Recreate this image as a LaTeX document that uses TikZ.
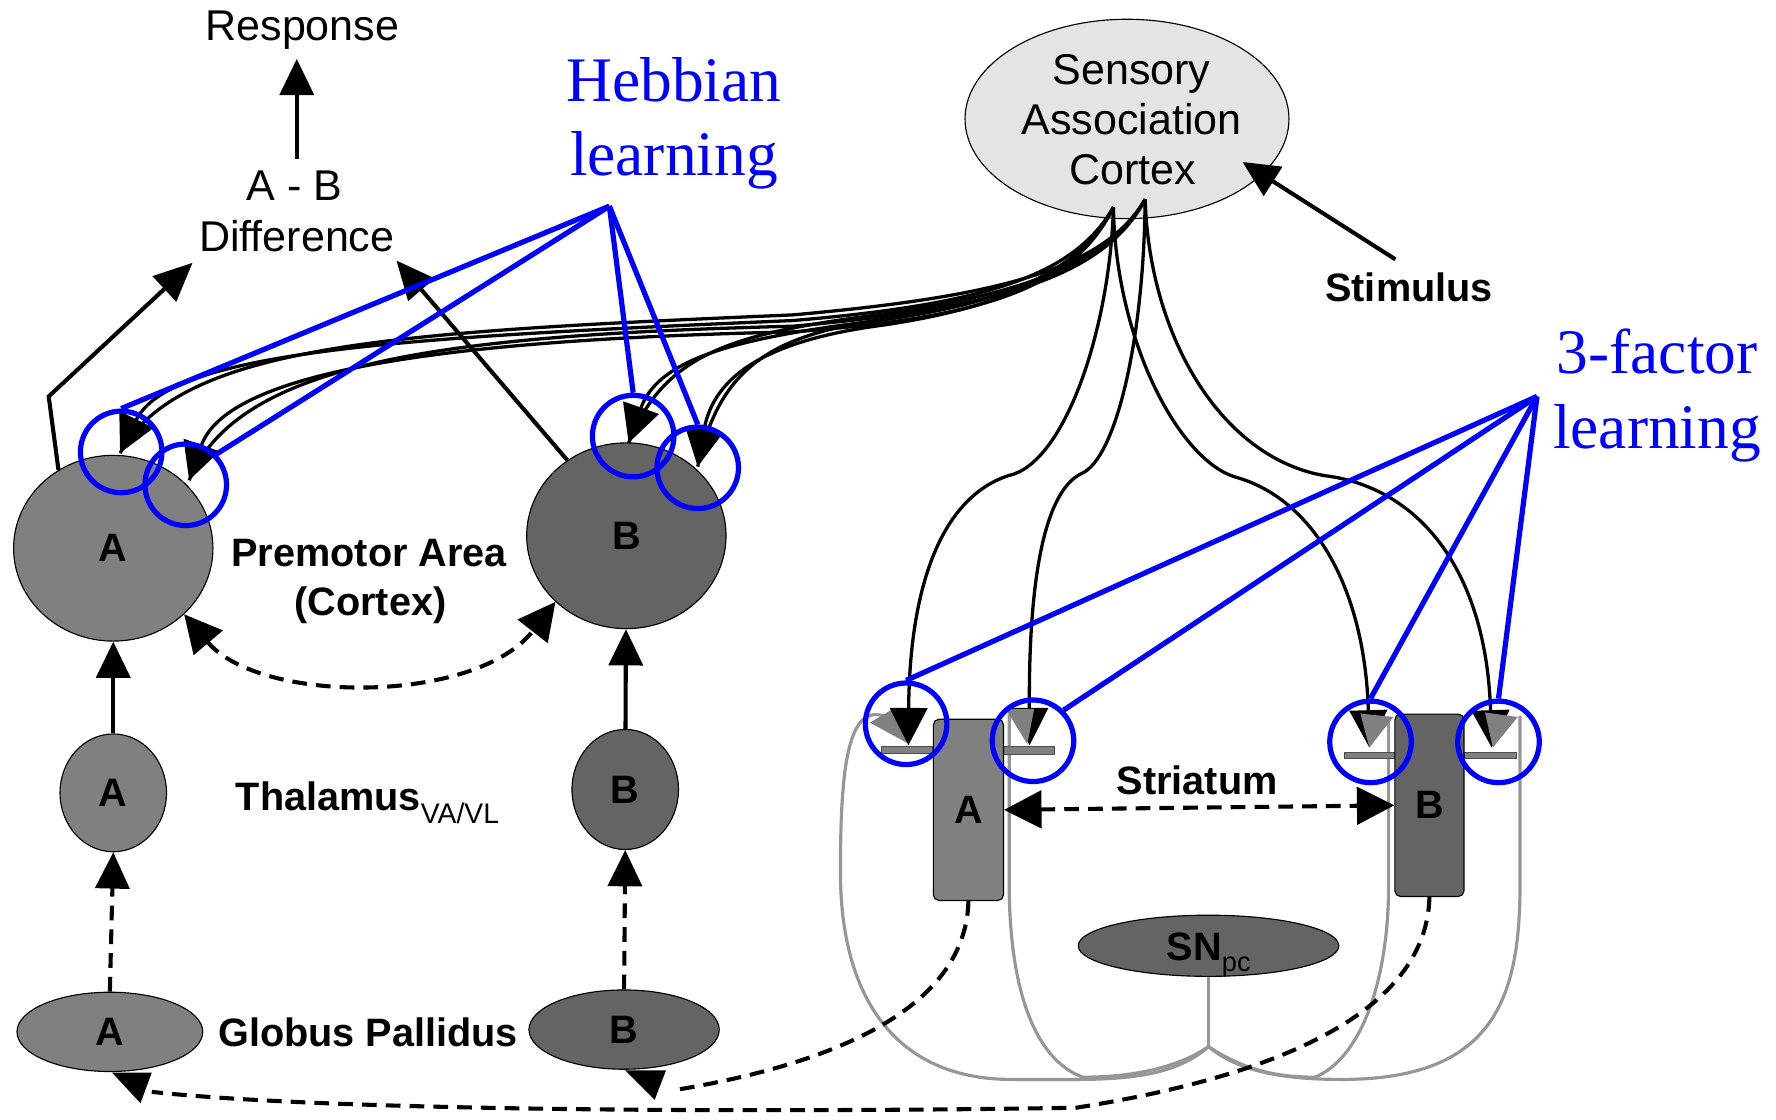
\documentclass[tikz,border=0pt]{standalone}
\usepackage{fontspec}
\setmainfont{Liberation Sans}
\newfontfamily\timesfam{Liberation Serif}
\usetikzlibrary{arrows.meta,shapes.geometric}
\definecolor{areaA}{RGB}{128,128,128}
\definecolor{areaB}{RGB}{100,100,100}
\definecolor{sensfill}{RGB}{228,228,228}
\definecolor{dopa}{RGB}{150,150,150}
\definecolor{hebblue}{RGB}{0,0,255}
\tikzset{
  brainarea/.style={ellipse, draw, line width=1pt, inner sep=0pt,
    font=\fontsize{35}{40}\selectfont\bfseries},
  striat/.style={rectangle, rounded corners=5pt, draw, line width=1pt, inner sep=0pt,
    minimum width=62pt, minimum height=160pt, font=\fontsize{35}{40}\selectfont\bfseries},
  txt/.style={inner sep=0pt, anchor=base, font=\fontsize{38}{44}\selectfont},
  boldlbl/.style={inner sep=0pt, anchor=base, font=\fontsize{35}{40}\selectfont\bfseries},
  bluelbl/.style={inner sep=0pt, anchor=base, text=hebblue, font=\fontsize{56}{60}\selectfont\timesfam},
  solidarrow/.style={line width=3.6pt, -{Triangle[width=30pt,length=32pt]}},
  dashline/.style={line width=3.6pt, dash pattern=on 13pt off 8pt},
  dasharrow/.style={dashline, -{Triangle[width=30pt,length=32pt]}},
  dashboth/.style={dashline, {Triangle[width=33pt,length=33pt]}-{Triangle[width=33pt,length=33pt]}},
  fiber/.style={line width=2.9pt},
  fiberarrow/.style={line width=2.9pt, -{Triangle[width=33pt,length=33pt]}},
  dopamine/.style={draw=dopa, line width=2.8pt},
  ring/.style={circle, draw=hebblue, line width=4.6pt, minimum size=72pt, inner sep=0pt},
  pointer/.style={draw=hebblue, line width=4.6pt},
  synbar/.style={fill=areaA, draw=black!70, line width=0.8pt},
  graytip/.style={fill=areaA},
}
\begin{document}
\begin{tikzpicture}[x=1pt,y=-1pt]
\useasboundingbox (0,0) rectangle (1568,988);

% ---------- named points ----------
\coordinate (srcL) at (983,183);
\coordinate (srcR) at (1011,176);
\coordinate (junc) at (1067,924);
\coordinate (cAl) at (106,400);
\coordinate (cAr) at (167,424);
\coordinate (cBl) at (555,391);
\coordinate (cBr) at (616,412);
\coordinate (sAl) at (802,658);
\coordinate (sAr) at (909,658);
\coordinate (sBl) at (1209,660);
\coordinate (sBr) at (1317,660);
\coordinate (hebpt) at (538,182);
\coordinate (facpt) at (1357,350);
\coordinate (abtop) at (262,140);
\coordinate (resptip) at (262,52);
\coordinate (corner) at (43,350);
\coordinate (difftipA) at (170,232);
\coordinate (difftipB) at (350,230);
\coordinate (stimtail) at (1232,229);
\coordinate (stimtip) at (1097,143);
\coordinate (gpAend) at (134,964);
\coordinate (gpBend) at (598,962);

% ---------- dopamine projections from SNpc ----------
\draw[dopamine] (junc) .. controls (1040,948) and (1000,953) .. (950,953) -- (893,953)
  .. controls (790,953) and (742,880) .. (742,770)
  .. controls (742,680) and (748,622) .. (780,632);
\draw[dopamine] (junc) .. controls (1035,946) and (990,951) .. (956,951)
  .. controls (912,935) and (891,870) .. (891,780) -- (891,630);
\draw[dopamine] (junc) .. controls (1100,946) and (1130,951) .. (1161,951)
  .. controls (1200,935) and (1226,870) .. (1226,780) -- (1226,634);
\draw[dopamine] (junc) .. controls (1095,948) and (1140,953) .. (1185,953)
  .. controls (1320,953) and (1342,880) .. (1342,780) -- (1342,632);

% ---------- synapse bars ----------
\draw[synbar] (778,659) rectangle (823,665);
\draw[synbar] (885,659) rectangle (931,666);
\draw[synbar] (1187,664) rectangle (1233,670);
\draw[synbar] (1293,664) rectangle (1339,670);

% ---------- brain areas ----------
\node[brainarea, fill=sensfill, minimum width=286pt, minimum height=176pt] (sac) at (995,105) {};
\node[brainarea, fill=areaA, minimum width=176pt, minimum height=164pt] (pmA) at (100,484) {A};
\node[brainarea, fill=areaB, minimum width=176pt, minimum height=164pt] (pmB) at (553,473) {B};
\node[brainarea, fill=areaA, minimum width=94pt, minimum height=104pt] (thA) at (100,700) {A};
\node[brainarea, fill=areaB, minimum width=94pt, minimum height=106pt] (thB) at (552,697) {B};
\node[brainarea, fill=areaA, minimum width=164pt, minimum height=70pt] (gpA) at (97,911) {A};
\node[brainarea, fill=areaB, minimum width=168pt, minimum height=70pt] (gpB) at (551,909) {B};
\node[striat, fill=areaA] (stA) at (855,715) {A};
\node[striat, fill=areaB, minimum width=61pt, minimum height=161pt] (stB) at (1262,711) {B};
\node[brainarea, fill=areaB, minimum width=230pt, minimum height=54pt] (snpc) at (1067,835) {};
\draw[dopamine] (snpc.south) -- (junc);

% ---------- labels ----------
\node[txt] (resp) at (267,36) {Response};
\node[txt] (abl) at (260,177) {A - B};
\node[txt] (diffl) at (262,222) {Difference};
\node[txt] (sac1) at (999,75) {Sensory};
\node[txt] (sac2) at (999,119) {Association};
\node[txt] (sac3) at (1000,163) {Cortex};
\node[boldlbl] (stim) at (1244,266) {Stimulus};
\node[boldlbl] (pml1) at (326,500) {Premotor Area};
\node[boldlbl] (pml2) at (327,543) {(Cortex)};
\node[boldlbl, anchor=base west] (thl) at (208,716) {Thalamus\raisebox{-11pt}{\fontsize{25}{25}\selectfont\mdseries VA/VL}};
\node[boldlbl] (gpl) at (325,924) {Globus Pallidus};
\node[boldlbl] (stl) at (1057,701) {Striatum};
\node[boldlbl, anchor=base west] (snl) at (1030,848) {SN\raisebox{-10pt}{\fontsize{24}{24}\selectfont\mdseries pc}};
\node[bluelbl] (heb1) at (595,90) {Hebbian};
\node[bluelbl] (heb2) at (595,155) {learning};
\node[bluelbl] (fac1) at (1463,330) {3-factor};
\node[bluelbl] (fac2) at (1463,396) {learning};

% ---------- output side ----------
\draw[solidarrow] (abtop) -- (resptip);
\draw[solidarrow, -{Triangle[width=30pt,length=34pt]}] (pmA.125) -- (corner) -- (difftipA);
\draw[solidarrow, -{Triangle[width=30pt,length=34pt]}] (pmB.128) -- (difftipB);
\draw[solidarrow] (stimtail) -- (stimtip);

% ---------- loop through thalamus and pallidum ----------
\draw[solidarrow] (thA) -- (pmA);
\draw[solidarrow] (thB) -- (pmB);
\draw[dasharrow] (gpA.north) -- (thA.south);
\draw[dasharrow] (gpB.north) -- (thB.south);
\draw[dashboth] (pmA.-43) .. controls (230,622) and (420,622) .. (pmB.223);
\draw[dashboth] (stA.east) -- (stB.west);
\draw[dashline] (stA.south) .. controls (853,880) and (760,935) .. (gpBend);
\fill (552,945) -- (588,945) -- (578,971) -- cycle;
\draw[dashline] (stB.south) .. controls (1260,880) and (1160,945) .. (950,978)
  .. controls (700,982) and (300,982) .. (gpAend);
\fill (99,947) -- (134,947) -- (124,974) -- cycle;

% ---------- sensory fibres to premotor cortex ----------
\draw[fiberarrow] (srcL) .. controls (950,240) and (880,268) .. (700,283)
  .. controls (350,298) and (150,310) .. (cAl);
\draw[fiber] (srcR) .. controls (975,238) and (880,262) .. (700,278)
  .. controls (350,293) and (160,303) .. (cAl);
\draw[fiberarrow] (srcL) .. controls (950,250) and (880,280) .. (700,293)
  .. controls (380,300) and (200,330) .. (cAr);
\draw[fiber] (srcR) .. controls (975,245) and (880,272) .. (700,288)
  .. controls (380,296) and (210,322) .. (cAr);
\draw[fiberarrow] (srcL) .. controls (950,245) and (880,270) .. (760,285)
  .. controls (640,300) and (580,320) .. (cBl);
\draw[fiber] (srcR) .. controls (975,240) and (880,264) .. (760,280)
  .. controls (640,296) and (585,316) .. (cBl);
\draw[fiberarrow] (srcL) .. controls (950,245) and (880,272) .. (780,287)
  .. controls (680,300) and (630,330) .. (cBr);
\draw[fiber] (srcR) .. controls (975,240) and (880,266) .. (780,282)
  .. controls (680,296) and (635,325) .. (cBr);

% ---------- sensory fibres to striatum ----------
\fill[graytip] (768,638) -- (790,625) -- (801,656) -- cycle;
\draw[fiberarrow] (srcL) .. controls (980,290) and (940,410) .. (890,420)
  .. controls (830,440) and (803,520) .. (sAl);
\draw[fiberarrow] (srcR) .. controls (1010,300) and (985,405) .. (955,418)
  .. controls (925,432) and (908,500) .. (sAr);
\draw[fiberarrow] (srcL) .. controls (985,300) and (1040,405) .. (1090,421)
  .. controls (1160,440) and (1205,520) .. (sBl);
\draw[fiberarrow] (srcR) .. controls (1015,300) and (1080,405) .. (1170,420)
  .. controls (1250,430) and (1312,500) .. (sBr);
\fill[graytip] (888,626) -- (913,626) -- (907,657) -- cycle;
\fill[graytip] (1201,630) -- (1230,633) -- (1209,660) -- cycle;
\fill[graytip] (1311,629) -- (1340,633) -- (1318,660) -- cycle;

% ---------- learning sites ----------
\node[ring] (h1) at (107,399) {};
\node[ring] (h2) at (164,428) {};
\node[ring] (h3) at (559,385) {};
\node[ring] (h4) at (616,413) {};
\node[ring] (s1) at (800,639) {};
\node[ring] (s2) at (912,654) {};
\node[ring] (s3) at (1210,655) {};
\node[ring] (s4) at (1323,655) {};
\draw[pointer] (hebpt) -- (h1.north);
\draw[pointer] (hebpt) -- (h2.45);
\draw[pointer] (hebpt) -- (h3.north);
\draw[pointer] (hebpt) -- (h4.north);
\draw[pointer] (facpt) -- (s1.north);
\draw[pointer] (facpt) -- (s2.45);
\draw[pointer] (facpt) -- (s3.north);
\draw[pointer] (facpt) -- (s4.north);
\end{tikzpicture}
\end{document}
